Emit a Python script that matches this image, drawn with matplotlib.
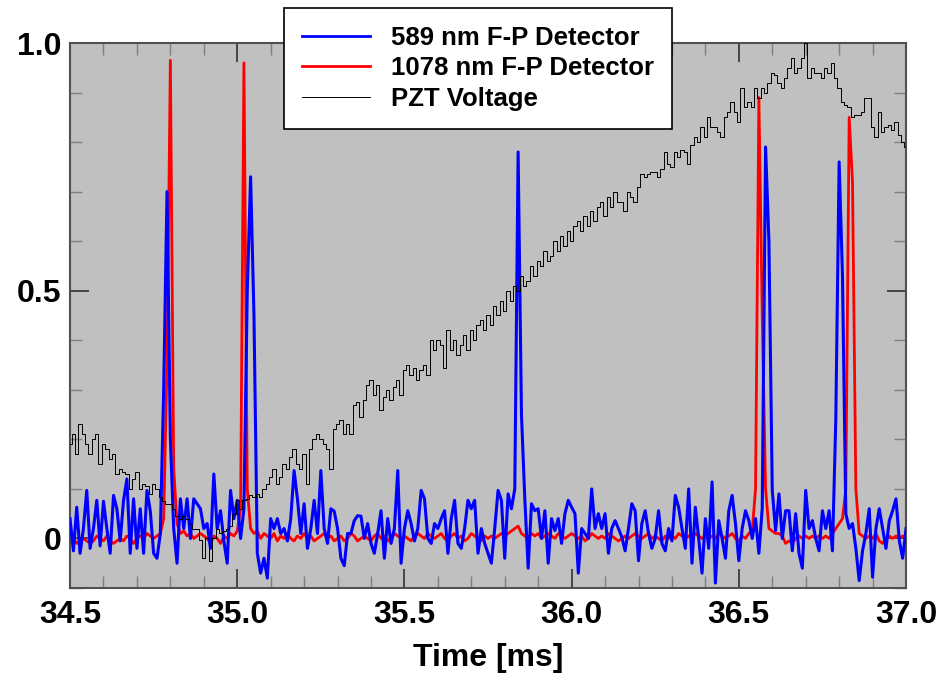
import numpy as np
import matplotlib.pyplot as plt
from matplotlib.ticker import MultipleLocator, FixedLocator, FixedFormatter

t_start = 34.5
t_step = 0.01

blue_589 = [
    0.04, -0.025, 0.063, -0.03, 0.02, 0.097, -0.02, 0.02, 0.077, -0.015,
    0.075, 0.02, -0.03, 0.087, 0.06, -0.005, 0.077, 0.12, -0.03, 0.08,
    -0.02, 0.06, -0.03, 0.097, 0.055, -0.03, -0.04, 0.01, 0.3, 0.70,
    0.2, 0.02, -0.05, 0.08, 0.02, 0.08, 0.0, 0.08, 0.07, 0.06,
    0.02, 0.03, -0.02, 0.13, 0.02, 0.056, -0.005, -0.05, 0.097, 0.04,
    0.077, 0.0, 0.06, 0.5, 0.73, 0.45, -0.03, -0.07, -0.04, -0.08,
    0.04, 0.02, 0.04, 0.01, 0.02, -0.005, 0.04, 0.137, 0.08, 0.01,
    0.07, -0.02, 0.02, 0.077, 0.01, 0.137, 0.02, -0.01, 0.06, 0.055,
    0.02, -0.04, -0.055, 0.01, 0.01, 0.036, 0.046, 0.045, 0.0, 0.03,
    -0.01, -0.03, 0.01, 0.056, -0.04, 0.04, -0.01, 0.02, 0.137, -0.05,
    0.02, 0.056, 0.03, -0.005, 0.02, 0.097, 0.08, 0.0, -0.01, 0.03,
    0.02, 0.04, 0.056, -0.03, 0.04, 0.077, -0.01, -0.02, 0.02, 0.077,
    0.06, 0.077, -0.03, 0.02, -0.01, -0.03, -0.05, 0.02, 0.097, 0.077,
    -0.04, 0.09, 0.06, 0.10, 0.78, 0.25, 0.08, -0.06, 0.07, 0.056,
    0.06, 0.0, 0.056, -0.05, 0.04, 0.016, 0.04, -0.01, 0.05, 0.077,
    0.063, 0.05, -0.07, 0.02, 0.01, 0.0, 0.1, 0.02, 0.05, 0.02,
    0.05, -0.03, 0.02, 0.036, 0.02, 0.003, -0.025, 0.02, 0.07, 0.056,
    -0.045, 0.03, 0.056, 0.01, -0.02, 0.0, 0.056, -0.01, -0.025, 0.02,
    -0.005, 0.087, 0.063, 0.02, -0.02, 0.1, -0.05, 0.063, 0.0, -0.07,
    0.04, -0.02, 0.114, -0.09, 0.036, 0.0, -0.04, 0.056, 0.087, 0.03,
    -0.045, 0.02, 0.056, 0.036, 0.0, 0.04, -0.03, 0.06, 0.79, 0.6,
    0.097, 0.016, 0.09, 0.0, 0.056, 0.056, -0.025, 0.05, -0.03, -0.06,
    0.097, 0.02, 0.036, 0.0, -0.025, 0.056, 0.02, 0.056, -0.025, 0.24,
    0.76, 0.53, 0.05, 0.02, 0.03, -0.02, -0.085, -0.025, 0.01, 0.06,
    -0.078, 0.02, 0.06, 0.02, -0.02, 0.036, 0.056, 0.08, -0.005, -0.04, 0.02,
]

red_1078 = [
    -0.005, 0.0, -0.01, -0.005, 0.0, -0.005, -0.01, -0.005, 0.005, 0.0,
    -0.005, 0.005, -0.005, -0.01, -0.005, 0.0, -0.005, 0.005, 0.0, -0.01,
    0.0, 0.005, 0.0, 0.01, 0.005, 0.0, 0.005, 0.01, 0.04, 0.35,
    0.965, 0.14, 0.03, 0.01, 0.015, 0.005, 0.01, 0.0, 0.005, 0.01,
    0.005, 0.0, -0.01, 0.005, 0.0, -0.01, 0.005, 0.0, 0.01, 0.005,
    0.015, 0.06, 0.96, 0.1, 0.02, 0.01, 0.015, 0.0, 0.01, 0.005,
    0.0, 0.01, -0.005, 0.005, 0.0, 0.01, 0.0, -0.005, 0.005, 0.0,
    0.01, 0.0, 0.005, -0.005, 0.0, 0.005, 0.01, 0.0, 0.005, -0.005,
    0.0, 0.005, -0.005, 0.0, 0.01, 0.005, -0.005, 0.0, 0.005, 0.0,
    -0.005, 0.005, 0.01, 0.0, 0.005, -0.005, 0.0, 0.01, 0.005, 0.0,
    0.005, 0.0, -0.005, 0.005, 0.01, 0.005, 0.0, 0.01, 0.005, 0.0,
    0.005, 0.01, 0.0, -0.005, 0.005, 0.01, 0.0, 0.005, -0.005, 0.0,
    0.01, 0.005, 0.0, -0.005, 0.005, 0.0, 0.005, 0.0, 0.005, 0.01,
    0.005, 0.01, 0.015, 0.02, 0.025, 0.01, 0.005, 0.0, 0.01, 0.005,
    0.01, 0.0, 0.005, 0.01, 0.005, 0.0, 0.01, 0.005, 0.0, 0.005,
    0.01, 0.005, 0.0, 0.005, -0.005, 0.0, 0.01, 0.005, 0.0, 0.005,
    0.0, 0.01, 0.005, 0.0, -0.005, 0.0, 0.005, 0.0, 0.005, 0.01,
    0.005, 0.0, 0.005, 0.01, 0.0, 0.005, 0.0, -0.005, 0.005, 0.0,
    0.005, 0.0, 0.01, 0.005, 0.0, 0.005, 0.0, 0.01, 0.005, 0.0,
    0.005, 0.0, 0.005, 0.0, 0.01, 0.005, 0.0, 0.005, 0.01, 0.0,
    -0.005, 0.005, 0.0, 0.01, 0.015, 0.1, 0.89, 0.45, 0.1, 0.02,
    0.015, 0.01, 0.01, 0.005, -0.01, -0.005, -0.01, 0.0, 0.005, 0.0,
    0.005, 0.0, 0.005, 0.0, 0.005, 0.0, 0.005, 0.0, 0.01, 0.02,
    0.03, 0.04, 0.1, 0.85, 0.72, 0.1, 0.01, 0.005, 0.0, 0.005,
    0.0, 0.01, -0.005, -0.01, 0.0, 0.005, 0.0, 0.005, 0.0, 0.005, 0.0,
]

pzt_voltage = [
    0.19, 0.21, 0.17, 0.23, 0.21, 0.19, 0.17, 0.20, 0.21, 0.15,
    0.19, 0.18, 0.16, 0.17, 0.13, 0.14, 0.135, 0.13, 0.10, 0.12,
    0.135, 0.10, 0.11, 0.105, 0.09, 0.11, 0.10, 0.083, 0.075, 0.07,
    0.07, 0.06, 0.045, 0.04, 0.045, 0.04, 0.03, 0.02, 0.02, -0.004,
    -0.04, 0.0, -0.045, 0.0, 0.02, 0.01, 0.015, 0.02, 0.025, 0.05,
    0.077, 0.06, 0.077, 0.08, 0.087, 0.083, 0.09, 0.083, 0.10, 0.11,
    0.124, 0.14, 0.11, 0.124, 0.15, 0.14, 0.165, 0.18, 0.15, 0.14,
    0.17, 0.11, 0.18, 0.2, 0.21, 0.2, 0.19, 0.18, 0.14, 0.22,
    0.23, 0.24, 0.21, 0.23, 0.21, 0.27, 0.275, 0.245, 0.28, 0.31,
    0.32, 0.29, 0.31, 0.26, 0.285, 0.3, 0.28, 0.305, 0.32, 0.29,
    0.34, 0.35, 0.33, 0.345, 0.32, 0.34, 0.35, 0.33, 0.40, 0.38,
    0.40, 0.39, 0.345, 0.42, 0.38, 0.40, 0.37, 0.39, 0.41, 0.38,
    0.42, 0.40, 0.43, 0.44, 0.42, 0.45, 0.43, 0.47, 0.45, 0.48,
    0.46, 0.50, 0.48, 0.51, 0.50, 0.53, 0.51, 0.52, 0.55, 0.53,
    0.56, 0.55, 0.58, 0.56, 0.57, 0.60, 0.58, 0.61, 0.59, 0.62,
    0.60, 0.63, 0.64, 0.62, 0.65, 0.63, 0.66, 0.64, 0.67, 0.68,
    0.65, 0.69, 0.67, 0.70, 0.68, 0.68, 0.66, 0.70, 0.69, 0.68,
    0.71, 0.735, 0.73, 0.735, 0.74, 0.74, 0.73, 0.745, 0.78, 0.755,
    0.75, 0.78, 0.77, 0.785, 0.78, 0.755, 0.795, 0.81, 0.80, 0.83,
    0.81, 0.85, 0.83, 0.83, 0.82, 0.81, 0.85, 0.86, 0.88, 0.86,
    0.84, 0.91, 0.87, 0.88, 0.87, 0.91, 0.89, 0.91, 0.90, 0.92,
    0.94, 0.935, 0.92, 0.91, 0.93, 0.95, 0.97, 0.94, 0.95, 0.97,
    1.0, 0.93, 0.95, 0.94, 0.94, 0.93, 0.95, 0.94, 0.96, 0.93,
    0.91, 0.88, 0.875, 0.87, 0.85, 0.855, 0.855, 0.86, 0.89, 0.89,
    0.83, 0.81, 0.86, 0.82, 0.83, 0.835, 0.825, 0.84, 0.815, 0.80, 0.79,
]

labels = ['589 nm F-P Detector', '1078 nm F-P Detector', 'PZT Voltage']
x_ticks = [34.5, 35.0, 35.5, 36.0, 36.5, 37.0]
y_ticks = [0.0, 0.5, 1.0]
y_ticklabels = ['0', '0.5', '1.0']

time = t_start + t_step * np.arange(len(blue_589))

plt.rcParams['font.family'] = 'Liberation Sans'
plt.rcParams['font.weight'] = 'bold'

fig = plt.figure(figsize=(9.53, 6.74), dpi=100)
ax = fig.add_axes([0.0735, 0.1276, 0.8772, 0.8086])
ax.set_facecolor('#c0c0c0')

l_red, = ax.plot(time, red_1078, color='#ff0000', lw=2.0, zorder=2)
l_blue, = ax.plot(time, blue_589, color='#0000ff', lw=2.2, zorder=3)
l_blk, = ax.plot(time, pzt_voltage, color='black', lw=0.7, drawstyle='steps-mid', zorder=4)

ax.set_xlim(34.5, 37.0)
ax.set_ylim(-0.1, 1.0)

# ticks
ax.xaxis.set_major_locator(FixedLocator(x_ticks))
ax.xaxis.set_major_formatter(FixedFormatter(['%.1f' % v for v in x_ticks]))
ax.xaxis.set_minor_locator(MultipleLocator(0.1))
ax.yaxis.set_major_locator(FixedLocator(y_ticks))
ax.yaxis.set_major_formatter(FixedFormatter(y_ticklabels))
ax.yaxis.set_minor_locator(MultipleLocator(0.1))
ax.tick_params(which='major', direction='in', length=14, width=1.2, color='#303030',
               top=True, right=True, labelsize=23, pad=6)
ax.tick_params(which='minor', direction='in', length=8.5, width=1.0, color='#808080',
               top=True, right=True)
ax.tick_params(axis='x', which='major', pad=9)
for lbl in ax.get_xticklabels() + ax.get_yticklabels():
    lbl.set_fontweight('bold')

for sp in ax.spines.values():
    sp.set_color('#505050')
    sp.set_linewidth(1.5)

ax.set_xlabel('Time [ms]', fontsize=23, fontweight='bold', labelpad=9)

leg = fig.legend([l_blue, l_red, l_blk], labels, loc='upper left',
                 bbox_to_anchor=(284 / 953, 1 - 8 / 674), bbox_transform=fig.transFigure,
                 prop={'family': 'Liberation Sans', 'weight': 'bold', 'size': 18.5},
                 handlelength=2.65, handletextpad=0.8, labelspacing=0.25,
                 borderpad=0.7, borderaxespad=0, fancybox=False, framealpha=1)
leg.get_frame().set_edgecolor('black')
leg.get_frame().set_linewidth(1.2)
for h in leg.legend_handles:
    h.set_drawstyle('default')
leg.legend_handles[0].set_linewidth(2.0)
leg.legend_handles[1].set_linewidth(2.0)

fig.savefig('out.png', dpi=100)
